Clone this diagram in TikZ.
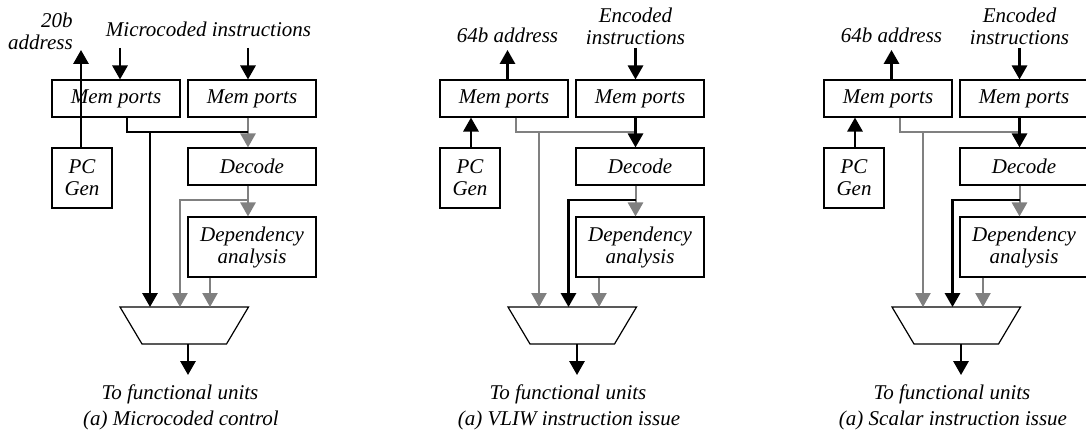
\documentclass[tikz,border=0pt]{standalone}
\usepackage{fontspec}
\setmainfont{Liberation Serif}
\usetikzlibrary{arrows.meta}
\definecolor{lg}{RGB}{128,128,128}
\tikzset{
  every node/.style={font=\fontsize{15.75}{16.5}\selectfont\itshape, inner sep=0pt},
  box/.style={draw, line width=0.9pt, fill=white, align=center, minimum width=96pt, minimum height=27.75pt},
  pcbox/.style={box, minimum width=45pt, minimum height=45pt},
  depbox/.style={box, minimum height=45pt},
  muxline/.style={draw, line width=0.9pt, line join=miter},
  tipshape/.style={-{Triangle[width=11.5pt,length=10.5pt]}},
  bk/.style={line width=1.6pt, black, tipshape},
  bkl/.style={line width=1.6pt, black},
  gthick/.style={line width=1.5pt, lg, tipshape},
  gthin/.style={line width=0.9pt, lg, tipshape},
  gthinl/.style={line width=0.9pt, lg},
  lbl/.style={align=center},
}
\newcommand\drawmux[1]{%
  \coordinate (#1muxtl) at (120,307);
  \coordinate (#1muxtr) at (248.5,307);
  \coordinate (#1muxbr) at (226.5,344);
  \coordinate (#1muxbl) at (142,344);
  \path[muxline] (#1muxtl) -- (#1muxtr) -- (#1muxbr) -- (#1muxbl) -- cycle;}
\newcommand\issuepanel[3]{%
\begin{scope}[shift={(#2,0)}]
  \node[box] (#1mem1) at (116,98.5) {Mem ports};
  \node[box] (#1mem2) at (252,98.5) {Mem ports};
  \node[pcbox] (#1pc) at (82,178) {PC\\Gen};
  \node[box] (#1dec) at (252,166.5) {Decode};
  \node[depbox] (#1dep) at (252,247) {Dependency\\analysis};
  \drawmux{#1}
  \node[lbl] (#1addr) at (119.5,35) {64b address};
  \node[lbl] (#1instr) at (247.5,26) {Encoded\\instructions};
  \node[lbl] (#1out) at (180,394) {To functional units};
  \node[lbl] (#1cap) at (181,420) {#3};
  \coordinate (#1ca) at (119.5,50);
  \coordinate (#1c2) at (247.5,48);
  \coordinate (#1pcx) at (83,0);
  \coordinate (#1j) at (128,132);
  \coordinate (#1m1) at (151,307);
  \coordinate (#1m2) at (180.5,307);
  \coordinate (#1m3) at (211,307);
  \coordinate (#1k) at (180.5,200);
  \coordinate (#1o) at (189,375);
  \draw[bk] (#1ca |- #1mem1.north) -- (#1ca);
  \draw[bk] (#1c2) -- (#1c2 |- #1mem2.north);
  \draw[bk] (#1pcx |- #1pc.north) -- (#1pcx |- #1mem1.south);
  \draw[gthinl] (#1j |- #1mem1.south) -- (#1j) -- (#1j -| #1c2);
  \draw[gthin] (#1m1 |- #1j) -- (#1m1);
  \draw[bk] (#1c2 |- #1mem2.south) -- (#1c2 |- #1dec.north);
  \draw[gthick] (#1c2 |- #1dec.south) -- (#1c2 |- #1dep.north);
  \draw[bk] (#1k -| #1c2) -- (#1k) -- (#1m2);
  \draw[gthin] (#1m3 |- #1dep.south) -- (#1m3);
  \draw[bk] (#1o |- #1muxbl) -- (#1o);
\end{scope}}
\begin{document}
\begin{tikzpicture}[x=0.75pt,y=-0.75pt]
\useasboundingbox (0,0) rectangle (1086,431);
% ---- panel (a) microcoded control
\node[box] (amem1) at (116,98.5) {Mem ports};
\node[box] (amem2) at (252,98.5) {Mem ports};
\node[pcbox] (apc) at (82,178) {PC\\Gen};
\node[box] (adec) at (252,166.5) {Decode};
\node[depbox] (adep) at (252,247) {Dependency\\analysis};
\drawmux{a}
\node[lbl, align=right, anchor=east] (aaddr) at (73,31) {20b\\address};
\node[lbl] (ainstr) at (208.5,29) {Microcoded instructions};
\node[lbl] (aout) at (180,394) {To functional units};
\node[lbl] (acap) at (181,420) {(a) Microcoded control};
\coordinate (ac1) at (120,48);
\coordinate (ac2) at (248,48);
\coordinate (apcx) at (81,50);
\coordinate (aj) at (127,132);
\coordinate (am1) at (150,307);
\coordinate (am2) at (180,307);
\coordinate (am3) at (210,307);
\coordinate (ag) at (180,200);
\coordinate (ao) at (188,375);
\draw[bk] (ac1) -- (ac1 |- amem1.north);
\draw[bk] (ac2) -- (ac2 |- amem2.north);
\draw[gthick] (ac2 |- amem2.south) -- (ac2 |- adec.north);
\draw[gthick] (ac2 |- adec.south) -- (ac2 |- adep.north);
\draw[gthin] (ag -| ac2) -- (ag) -- (am2);
\draw[gthin] (am3 |- adep.south) -- (am3);
\draw[bkl] (aj |- amem1.south) -- (aj) -- (aj -| ac2);
\draw[bk] (am1 |- aj) -- (am1);
\draw[bk] (apcx |- apc.north) -- (apcx);
\draw[bk] (ao |- amuxbl) -- (ao);
% ---- panels (b) and (c)
\issuepanel{b}{388}{(a) VLIW instruction issue}
\issuepanel{c}{772}{(a) Scalar instruction issue}
\end{tikzpicture}
\end{document}
